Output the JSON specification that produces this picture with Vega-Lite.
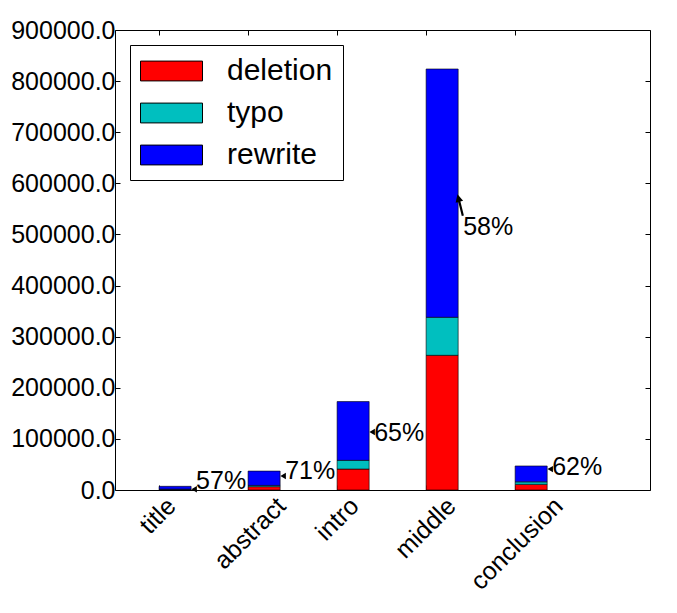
{
  "$schema": "https://vega.github.io/schema/vega-lite/v6.json",
  "width": 535,
  "height": 460,
  "autosize": {"type": "none"},
  "padding": {"left": 115, "top": 30, "right": 27, "bottom": 123},
  "config": {
    "view": {"stroke": "#000", "strokeWidth": 1},
    "font": "Liberation Sans",
    "axis": {
      "domain": false, "grid": false, "title": null,
      "tickColor": "#000", "tickSize": -5, "tickWidth": 1,
      "labelColor": "#000", "labelFont": "Liberation Sans", "labelFontSize": 25
    }
  },
  "datasets": {
    "parts": [
      {"section": "title", "kind": "deletion", "count": 1200},
      {"section": "title", "kind": "typo", "count": 500},
      {"section": "title", "kind": "rewrite", "count": 5500},
      {"section": "abstract", "kind": "deletion", "count": 6500},
      {"section": "abstract", "kind": "typo", "count": 2500},
      {"section": "abstract", "kind": "rewrite", "count": 28000},
      {"section": "intro", "kind": "deletion", "count": 41000},
      {"section": "intro", "kind": "typo", "count": 17000},
      {"section": "intro", "kind": "rewrite", "count": 115000},
      {"section": "middle", "kind": "deletion", "count": 263500},
      {"section": "middle", "kind": "typo", "count": 74400},
      {"section": "middle", "kind": "rewrite", "count": 485800},
      {"section": "conclusion", "kind": "deletion", "count": 11000},
      {"section": "conclusion", "kind": "typo", "count": 5000},
      {"section": "conclusion", "kind": "rewrite", "count": 31000}
    ],
    "notes": [
      {"section": "title", "label": "57%", "texty": 17600, "heady": 1500},
      {"section": "abstract", "label": "71%", "texty": 36200, "heady": 27400},
      {"section": "intro", "label": "65%", "texty": 111500, "heady": 113500},
      {"section": "middle", "label": "58%", "texty": 514600, "heady": 557600},
      {"section": "conclusion", "label": "62%", "texty": 45000, "heady": 41000}
    ]
  },
  "layer": [
    {
      "data": {"name": "parts"},
      "transform": [{"calculate": "indexof(['deletion', 'typo', 'rewrite'], datum.kind)", "as": "stackorder"}],
      "mark": {"type": "bar", "stroke": "#000", "strokeWidth": 0.8, "strokeOpacity": 0.75},
      "encoding": {
        "x": {
          "field": "section", "type": "nominal",
          "sort": ["title", "abstract", "intro", "middle", "conclusion"],
          "scale": {"paddingInner": 0.64, "paddingOuter": 0.825, "align": 0.3},
          "axis": {
            "orient": "bottom", "bandPosition": 0,
            "labelAngle": -45, "labelAlign": "right", "labelBaseline": "top",
            "labelFontSize": 25, "labelPadding": 8,
            "labelOffset": {
              "condition": [
                {"test": "datum.value === 'title'", "value": -12},
                {"test": "datum.value === 'abstract'", "value": 9},
                {"test": "datum.value === 'intro'", "value": -7},
                {"test": "datum.value === 'middle'", "value": 1}
              ],
              "value": 19
            }
          }
        },
        "y": {
          "field": "count", "type": "quantitative", "stack": "zero",
          "scale": {"domain": [0, 900000], "nice": false},
          "axis": {
            "orient": "left", "format": ".1f", "labelPadding": 5,
            "values": [0, 100000, 200000, 300000, 400000, 500000, 600000, 700000, 800000, 900000]
          }
        },
        "order": {"field": "stackorder", "type": "quantitative", "sort": "ascending"},
        "color": {
          "field": "kind", "type": "nominal",
          "sort": ["deletion", "typo", "rewrite"],
          "scale": {"domain": ["deletion", "typo", "rewrite"], "range": ["#ff0000", "#00bfbf", "#0000ff"]},
          "legend": {
            "orient": "none", "legendX": 15, "legendY": 15, "title": null,
            "symbolType": "M-1,-0.64H3V0.64H-1Z", "symbolSize": 961,
            "symbolStrokeColor": "#000", "symbolStrokeWidth": 1, "symbolOpacity": 1,
            "labelFont": "Liberation Sans", "labelFontSize": 30, "labelColor": "#000",
            "labelOffset": 55, "rowPadding": 11, "padding": 10,
            "strokeColor": "#000", "fillColor": "#fff", "cornerRadius": 0
          }
        }
      }
    },
    {
      "data": {"name": "notes"},
      "mark": {"type": "text", "align": "left", "baseline": "middle", "fontSize": 25, "dx": 5, "color": "#000"},
      "encoding": {
        "x": {
          "field": "section", "type": "nominal", "bandPosition": 1,
          "sort": ["title", "abstract", "intro", "middle", "conclusion"],
          "axis": {"orient": "top", "labels": false, "bandPosition": 0}
        },
        "y": {
          "field": "texty", "type": "quantitative",
          "axis": {
            "orient": "right", "labels": false,
            "values": [0, 100000, 200000, 300000, 400000, 500000, 600000, 700000, 800000, 900000]
          }
        },
        "text": {"field": "label"}
      }
    },
    {
      "data": {"name": "notes"},
      "transform": [{"filter": "datum.section !== 'middle'"}],
      "mark": {"type": "point", "shape": "triangle-left", "filled": true, "color": "#000", "opacity": 1, "size": 40, "xOffset": 3},
      "encoding": {
        "x": {"field": "section", "type": "nominal", "bandPosition": 1, "sort": ["title", "abstract", "intro", "middle", "conclusion"], "axis": null},
        "y": {"field": "heady", "type": "quantitative", "axis": null}
      }
    },
    {
      "data": {"name": "notes"},
      "transform": [{"filter": "datum.section === 'middle'"}],
      "mark": {
        "type": "point", "shape": "M0,-1L-0.35,-0.3L0.35,-0.3Z M-0.1,-0.3L0.1,-0.3L0.1,1L-0.1,1Z",
        "filled": true, "color": "#000", "opacity": 1, "size": 484, "angle": -14, "xOffset": 2
      },
      "encoding": {
        "x": {"field": "section", "type": "nominal", "bandPosition": 1, "sort": ["title", "abstract", "intro", "middle", "conclusion"], "axis": null},
        "y": {"field": "heady", "type": "quantitative", "axis": null}
      }
    }
  ],
  "resolve": {"axis": {"x": "independent", "y": "independent"}}
}
